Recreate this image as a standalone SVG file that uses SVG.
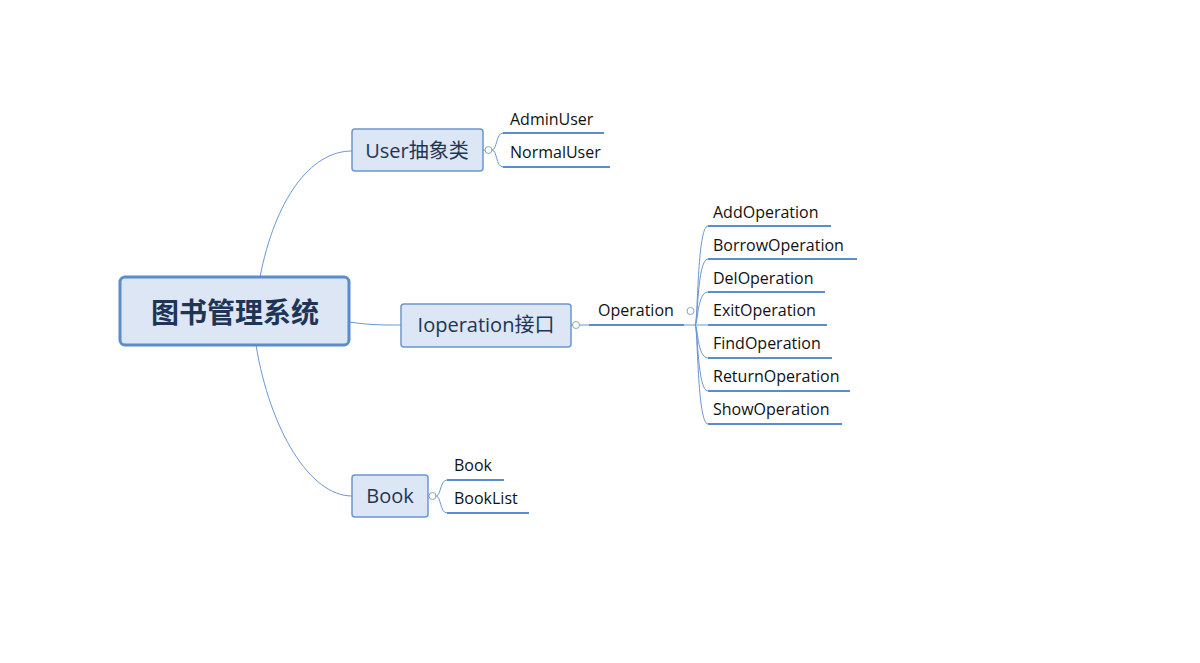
<svg xmlns="http://www.w3.org/2000/svg" width="1200" height="663" viewBox="0 0 1200 663">
<style>
.box{fill:#dce6f4;stroke:#6b97d2;stroke-width:1.5}
.t{font-family:"Open Sans","Noto Sans CJK SC",sans-serif;fill:#1f3556}
.s{font-family:"Open Sans","Noto Sans",sans-serif;font-size:16px;fill:#111}
.c{fill:none;stroke:#6b97d2;stroke-width:1}
.u{fill:none;stroke:#5b8ccc;stroke-width:2}
.k{fill:#fff;stroke:#8aa;stroke-width:1}
</style>
<rect width="1200" height="663" fill="#fff"/>
<g id="connectors">
<path class="c" d="M260,277 C275,200 310,151 352,151"/>
<path class="c" d="M349,322 C370,325 380,325 401,325"/>
<path class="c" d="M256,345 C270,430 310,496 352,496"/>
<path class="c" d="M483,150 L485,150"/>
<path class="c" d="M492,150 C497,150 496,133 503,133 M492,150 C497,150 496,167 503,167"/>
<path class="c" d="M571,325 L573,325"/>
<path class="c" d="M579,325 L589,325"/>
<path class="c" d="M684,325 L708,325"/>
<path class="c" d="M695,325 C698,325 697,226 708,226 M695,325 C698,325 697,259 708,259 M695,325 C698,325 697,292 708,292 M695,325 C698,325 697,358 708,358 M695,325 C698,325 697,391 708,391 M695,325 C698,325 697,424 708,424"/>
<path class="c" d="M428,496 L429,496"/>
<path class="c" d="M436,496 C441,496 440,480 447,480 M436,496 C441,496 440,513 447,513"/>
<circle class="k" cx="488.5" cy="150" r="3.5"/>
<circle class="k" cx="576" cy="325" r="3.5"/>
<circle class="k" cx="432.5" cy="496" r="3.5"/>
<circle class="k" cx="690.5" cy="311" r="3.5"/>
</g>
<g id="root"><rect x="120" y="277" width="229" height="68" rx="5" fill="#dce6f4" stroke="#5b8ccc" stroke-width="3"/><text class="t" x="235" y="323" font-size="28" font-weight="bold" text-anchor="middle" fill="#2b4f80">图书管理系统</text></g>
<g id="user"><rect class="box" x="352" y="129" width="131" height="42" rx="3"/><text class="t" x="417" y="158" font-size="20" text-anchor="middle">User抽象类</text></g>
<g id="iop"><rect class="box" x="401" y="304" width="170" height="43" rx="3"/><text class="t" x="486" y="332" font-size="20" text-anchor="middle">Ioperation接口</text></g>
<g id="book"><rect class="box" x="352" y="475" width="76" height="42" rx="3"/><text class="t" x="390" y="503" font-size="20" text-anchor="middle">Book</text></g>
<g id="adminuser"><path class="u" d="M503,133 H604"/><text class="s" x="510" y="125">AdminUser</text></g>
<g id="normaluser"><path class="u" d="M503,167 H610"/><text class="s" x="510" y="158">NormalUser</text></g>
<g id="operation"><path class="u" d="M589,325 H684"/><text class="s" x="598" y="316">Operation</text></g>
<g id="add"><path class="u" d="M708,226 H831"/><text class="s" x="713" y="218">AddOperation</text></g>
<g id="borrow"><path class="u" d="M708,259 H857"/><text class="s" x="713" y="251">BorrowOperation</text></g>
<g id="del"><path class="u" d="M708,292 H825"/><text class="s" x="713" y="284">DelOperation</text></g>
<g id="exit"><path class="u" d="M708,325 H827"/><text class="s" x="713" y="316">ExitOperation</text></g>
<g id="find"><path class="u" d="M708,358 H832"/><text class="s" x="713" y="349">FindOperation</text></g>
<g id="return"><path class="u" d="M708,391 H850"/><text class="s" x="713" y="382">ReturnOperation</text></g>
<g id="show"><path class="u" d="M708,424 H842"/><text class="s" x="713" y="415">ShowOperation</text></g>
<g id="bookc"><path class="u" d="M447,480 H504"/><text class="s" x="454" y="471">Book</text></g>
<g id="booklist"><path class="u" d="M447,513 H529"/><text class="s" x="454" y="504">BookList</text></g>
</svg>
